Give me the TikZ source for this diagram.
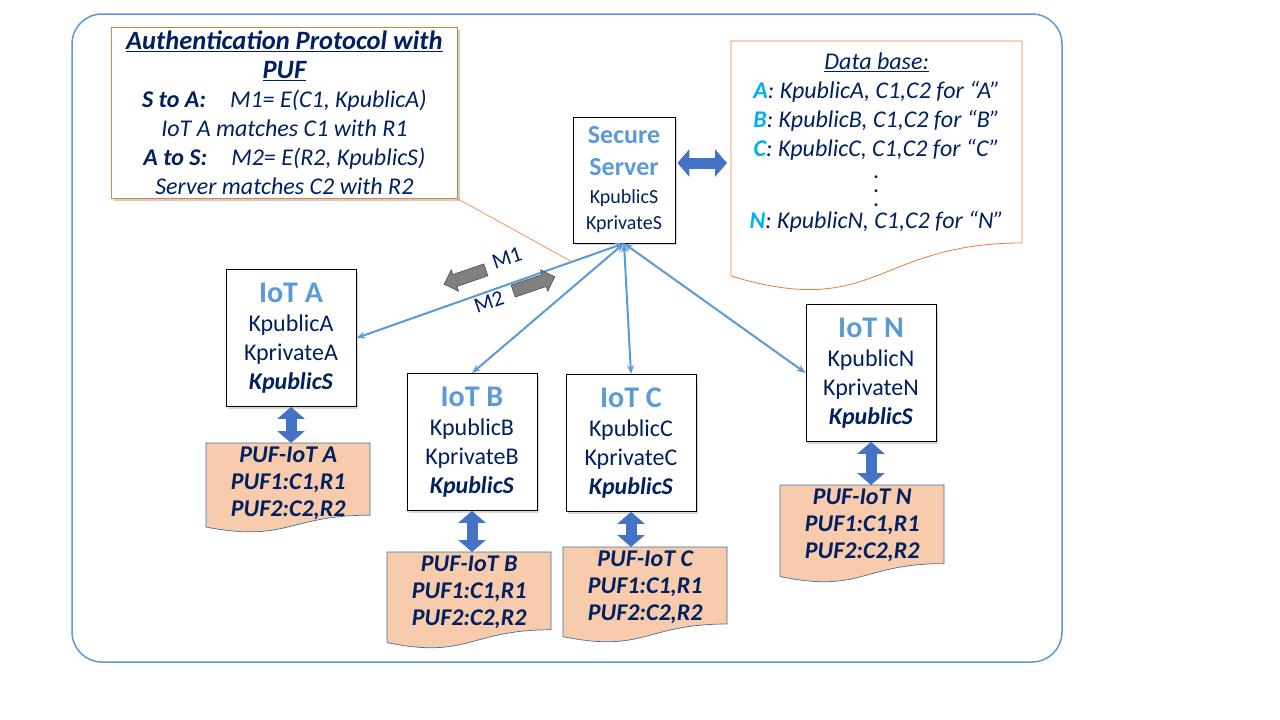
\documentclass[tikz,border=0pt]{standalone}
\usepackage{fontspec}
\setmainfont{Carlito}
\usetikzlibrary{arrows.meta,shapes.arrows,shadows}

\definecolor{navy}{RGB}{0,32,96}
\definecolor{lblue}{RGB}{91,155,213}
\definecolor{cyanA}{RGB}{0,176,240}
\definecolor{orng}{RGB}{237,125,49}
\definecolor{puffill}{RGB}{248,203,173}
\definecolor{pufline}{RGB}{65,113,156}
\definecolor{arrblue}{RGB}{68,114,196}

\newcommand{\fsz}[2]{\fontsize{#1}{#2}\selectfont}
\newcommand{\ttl}[1]{{\fsz{30}{32}\bfseries\color{lblue}#1}}
\newcommand{\dbl}[1]{\textbf{\color{cyanA}#1}}
\newcommand{\ptitle}[1]{{\fsz{26.5}{29}\bfseries\underline{#1}}}

\pgfdeclarelayer{bg}
\pgfsetlayers{bg,main}

\tikzset{
  keybox/.style={draw, fill=white, line width=0.8pt, text=navy, align=center,
    minimum width=130pt, minimum height=137pt, inner sep=0pt, font=\fsz{24}{29},
    drop shadow={shadow xshift=2pt, shadow yshift=-2pt, opacity=.3}},
  pufdoc/.style={fill=puffill, draw=pufline, line width=0.7pt},
  puftext/.style={text=navy, align=center, font=\fsz{24}{27}\bfseries\itshape,
    anchor=north west, minimum width=164pt, inner xsep=0pt, inner ysep=4pt},
  link/.style={lblue, line width=2pt, {Stealth[length=9pt,width=7pt]}-{Stealth[length=9pt,width=7pt]}},
  blockarrow/.style={arrblue, line width=11pt, {Triangle[width=27pt,length=12pt]}-{Triangle[width=27pt,length=12pt]}},
  garrow/.style={single arrow, draw=black!70, fill=black!50, line width=0.6pt,
    minimum height=44pt, minimum width=22pt, single arrow head extend=5pt,
    inner xsep=0pt, inner ysep=6pt},
  mlabel/.style={text=navy, font=\fsz{22}{24}, inner sep=0pt},
}

\begin{document}
\begin{tikzpicture}[x=1pt, y=-1pt]
    \begin{pgfonlayer}{bg}
        \fill[white] (0,0) rectangle (1280,720);
    \end{pgfonlayer}
    \useasboundingbox (0,0) rectangle (1280,720);
    \draw[lblue, line width=1.5pt, rounded corners=30pt] (72,14) rectangle (1062,662);

    % protocol note
    \node[draw=orng, fill=white, line width=0.8pt, text=navy, align=center, anchor=north west,
          minimum width=346pt, minimum height=171pt, inner sep=0pt, font=\fsz{24}{29}\itshape,
          drop shadow={shadow xshift=3pt, shadow yshift=-3pt, opacity=.4}] (proto) at (111,27)
        {\ptitle{Authentication Protocol with}\\\ptitle{PUF}\\
         \textbf{S to A:}\quad M1= E(C1, KpublicA)\\IoT A matches C1 with R1\\
         \textbf{A to S:}\quad M2= E(R2, KpublicS)\\Server matches C2 with R2};
    \coordinate (tip) at (572,262);
    \draw[orng, line width=0.6pt] (proto.south east) -- (tip);

    % server
    \node[keybox, minimum width=102pt, minimum height=126pt, font=\fsz{20}{26}] (server) at (624,180)
        {{\fsz{26}{28}\bfseries\color{lblue}Secure}\\[6pt]{\fsz{26}{28}\bfseries\color{lblue}Server}\\[2pt]KpublicS\\KprivateS};

    % data base
    \node[text=navy, align=center, anchor=north west, minimum width=291pt, inner xsep=0pt,
          inner ysep=12pt, font=\fsz{24}{29}\itshape] (db) at (731,41)
        {\underline{Data base:}\\
         \dbl{A}: KpublicA, C1,C2 for “A”\\
         \dbl{B}: KpublicB, C1,C2 for “B”\\
         \dbl{C}: KpublicC, C1,C2 for “C”\\[-7pt]
         .\\[-15pt].\\[-15pt].\\[-7pt]
         \dbl{N}: KpublicN, C1,C2 for “N”};
    \begin{pgfonlayer}{bg}
        \draw[orng, line width=0.8pt, fill=white, shift={(db.north west)}]
            (0,0) -- (291,0) -- (291,202) .. controls (145,202) and (145,279) .. (0,235) -- cycle;
    \end{pgfonlayer}
    \draw[blockarrow, shorten <=2pt, shorten >=4pt] ([yshift=17pt]server.east) -- ([yshift=17pt]server.east -| db.west);

    % devices and their PUFs
    \foreach \n/\x/\y/\px/\py/\h in {A/291/338/206/443/90, B/472/442/387/552/97,
                                    C/631/443/563/547/96, N/871/373/780/485/98}{
        \node[keybox] (iot\n) at (\x,\y)
            {\ttl{IoT \n}\\Kpublic\n\\Kprivate\n\\\textbf{\textit{KpublicS}}};
        \node[puftext] (puf\n) at (\px,\py) {PUF-IoT \n\\PUF1:C1,R1\\PUF2:C2,R2};
        \begin{pgfonlayer}{bg}
            \draw[pufdoc, shift={(puf\n.north west)}]
                (0,0) -- (164,0) -- (164,.802*\h) .. controls (82,.802*\h) and (82,1.107*\h) .. (0,.934*\h) -- cycle;
        \end{pgfonlayer}
        \draw[blockarrow] (iot\n.south) -- (iot\n.south |- puf\n.north);
    }

    \foreach \t in {iotA.east, iotB.north, iotC.north, iotN.west}
        \draw[link] (server.south) -- (\t);

    % messages
    \node[garrow, rotate=199] (m1arr) at (468,276) {};
    \node[garrow, rotate=19] (m2arr) at (531,285) {};
    \node[mlabel, rotate=19] (m1) at (507,258) {M1};
    \node[mlabel, rotate=19] (m2) at (489,302) {M2};
\end{tikzpicture}
\end{document}
